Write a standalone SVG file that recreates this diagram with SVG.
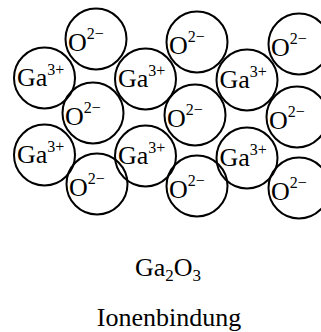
<svg xmlns="http://www.w3.org/2000/svg" width="321" height="332" viewBox="0 0 321 332">
<style>
circle{fill:none;stroke:#000;stroke-width:2}
text{font-family:'Liberation Serif','Times New Roman',serif;fill:#000}
.m{font-size:26px}
.s{font-size:16px}
.b{font-size:26px}
.sub{font-size:17px}
</style>
<g id="o1"><circle cx="96" cy="39" r="30.5"/><text class="m" x="68" y="51">O<tspan class="s" dy="-12">2−</tspan></text></g>
<g id="o2"><circle cx="197" cy="42" r="30.5"/><text class="m" x="169" y="54">O<tspan class="s" dy="-12">2−</tspan></text></g>
<g id="o3"><circle cx="299" cy="44" r="30.5"/><text class="m" x="271" y="56">O<tspan class="s" dy="-12">2−</tspan></text></g>
<g id="ga1"><circle cx="44.5" cy="78" r="30.5"/><text class="m" x="17" y="86">Ga<tspan class="s" dy="-11">3+</tspan></text></g>
<g id="ga2"><circle cx="145.5" cy="79" r="30.5"/><text class="m" x="118" y="87">Ga<tspan class="s" dy="-11">3+</tspan></text></g>
<g id="ga3"><circle cx="247" cy="80" r="30.5"/><text class="m" x="219.5" y="88">Ga<tspan class="s" dy="-11">3+</tspan></text></g>
<g id="o4"><circle cx="93" cy="113" r="30.5"/><text class="m" x="65" y="125">O<tspan class="s" dy="-12">2−</tspan></text></g>
<g id="o5"><circle cx="195" cy="115" r="30.5"/><text class="m" x="167" y="127">O<tspan class="s" dy="-12">2−</tspan></text></g>
<g id="o6"><circle cx="297" cy="117" r="30.5"/><text class="m" x="269" y="129">O<tspan class="s" dy="-12">2−</tspan></text></g>
<g id="ga4"><circle cx="44.5" cy="155" r="30.5"/><text class="m" x="17" y="163">Ga<tspan class="s" dy="-11">3+</tspan></text></g>
<g id="ga5"><circle cx="145.5" cy="156" r="30.5"/><text class="m" x="118" y="164">Ga<tspan class="s" dy="-11">3+</tspan></text></g>
<g id="ga6"><circle cx="247" cy="158" r="30.5"/><text class="m" x="219.5" y="166">Ga<tspan class="s" dy="-11">3+</tspan></text></g>
<g id="o7"><circle cx="97" cy="184" r="30.5"/><text class="m" x="69" y="196">O<tspan class="s" dy="-12">2−</tspan></text></g>
<g id="o8"><circle cx="197" cy="186" r="30.5"/><text class="m" x="169" y="198">O<tspan class="s" dy="-12">2−</tspan></text></g>
<g id="o9"><circle cx="299" cy="188" r="30.5"/><text class="m" x="271" y="200">O<tspan class="s" dy="-12">2−</tspan></text></g>
<g id="formula"><text class="b" x="168" y="276" text-anchor="middle">Ga<tspan class="sub" dy="5">2</tspan><tspan class="b" dy="-5">O</tspan><tspan class="sub" dy="5">3</tspan></text></g>
<g id="caption"><text class="b" x="169" y="326" text-anchor="middle">Ionenbindung</text></g>
</svg>
